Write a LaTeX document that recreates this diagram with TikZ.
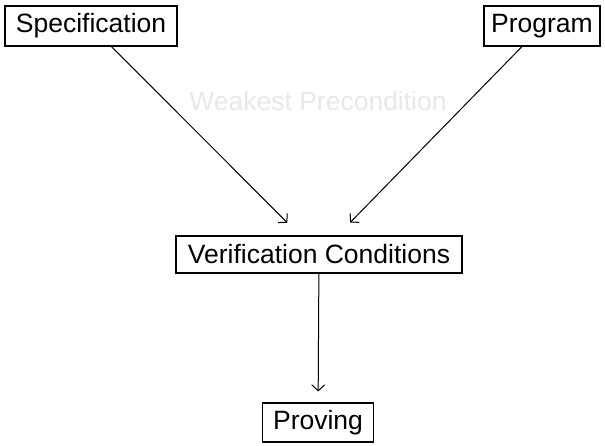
\documentclass[tikz,border=0pt]{standalone}
\usepackage{fontspec}
\setmainfont{Liberation Sans}
\usetikzlibrary{arrows.meta}
\begin{document}
\begin{tikzpicture}[x=1pt,y=-1pt,
  box/.style={draw,line width=1.1pt,inner sep=0pt,font=\fontsize{26.5}{30}\selectfont},
  conn/.style={line width=1pt,-{Straight Barb[length=6pt,width=13pt,line width=1pt]}},
  lbl/.style={text=black!9,font=\fontsize{26.5}{30}\selectfont}]
\useasboundingbox (0,0) rectangle (605,445);
\node[box,minimum width=172pt,minimum height=40pt] (spec) at (91,26) {Specification};
\node[box,minimum width=116pt,minimum height=40pt] (prog) at (542,26) {Program};
\node[box,minimum width=286pt,minimum height=37pt] (vc) at (319,254.5) {Verification Conditions};
\node[box,minimum width=111pt,minimum height=39pt] (prov) at (318,422.5) {Proving};
\node[lbl] (wp) at (318,101) {Weakest Precondition};
\draw[conn,shorten >=18pt] (spec) -- (vc);
\draw[conn,shorten >=18pt] (prog) -- (vc);
\draw[conn,shorten >=11pt] (vc) -- (prov);
\end{tikzpicture}
\end{document}
